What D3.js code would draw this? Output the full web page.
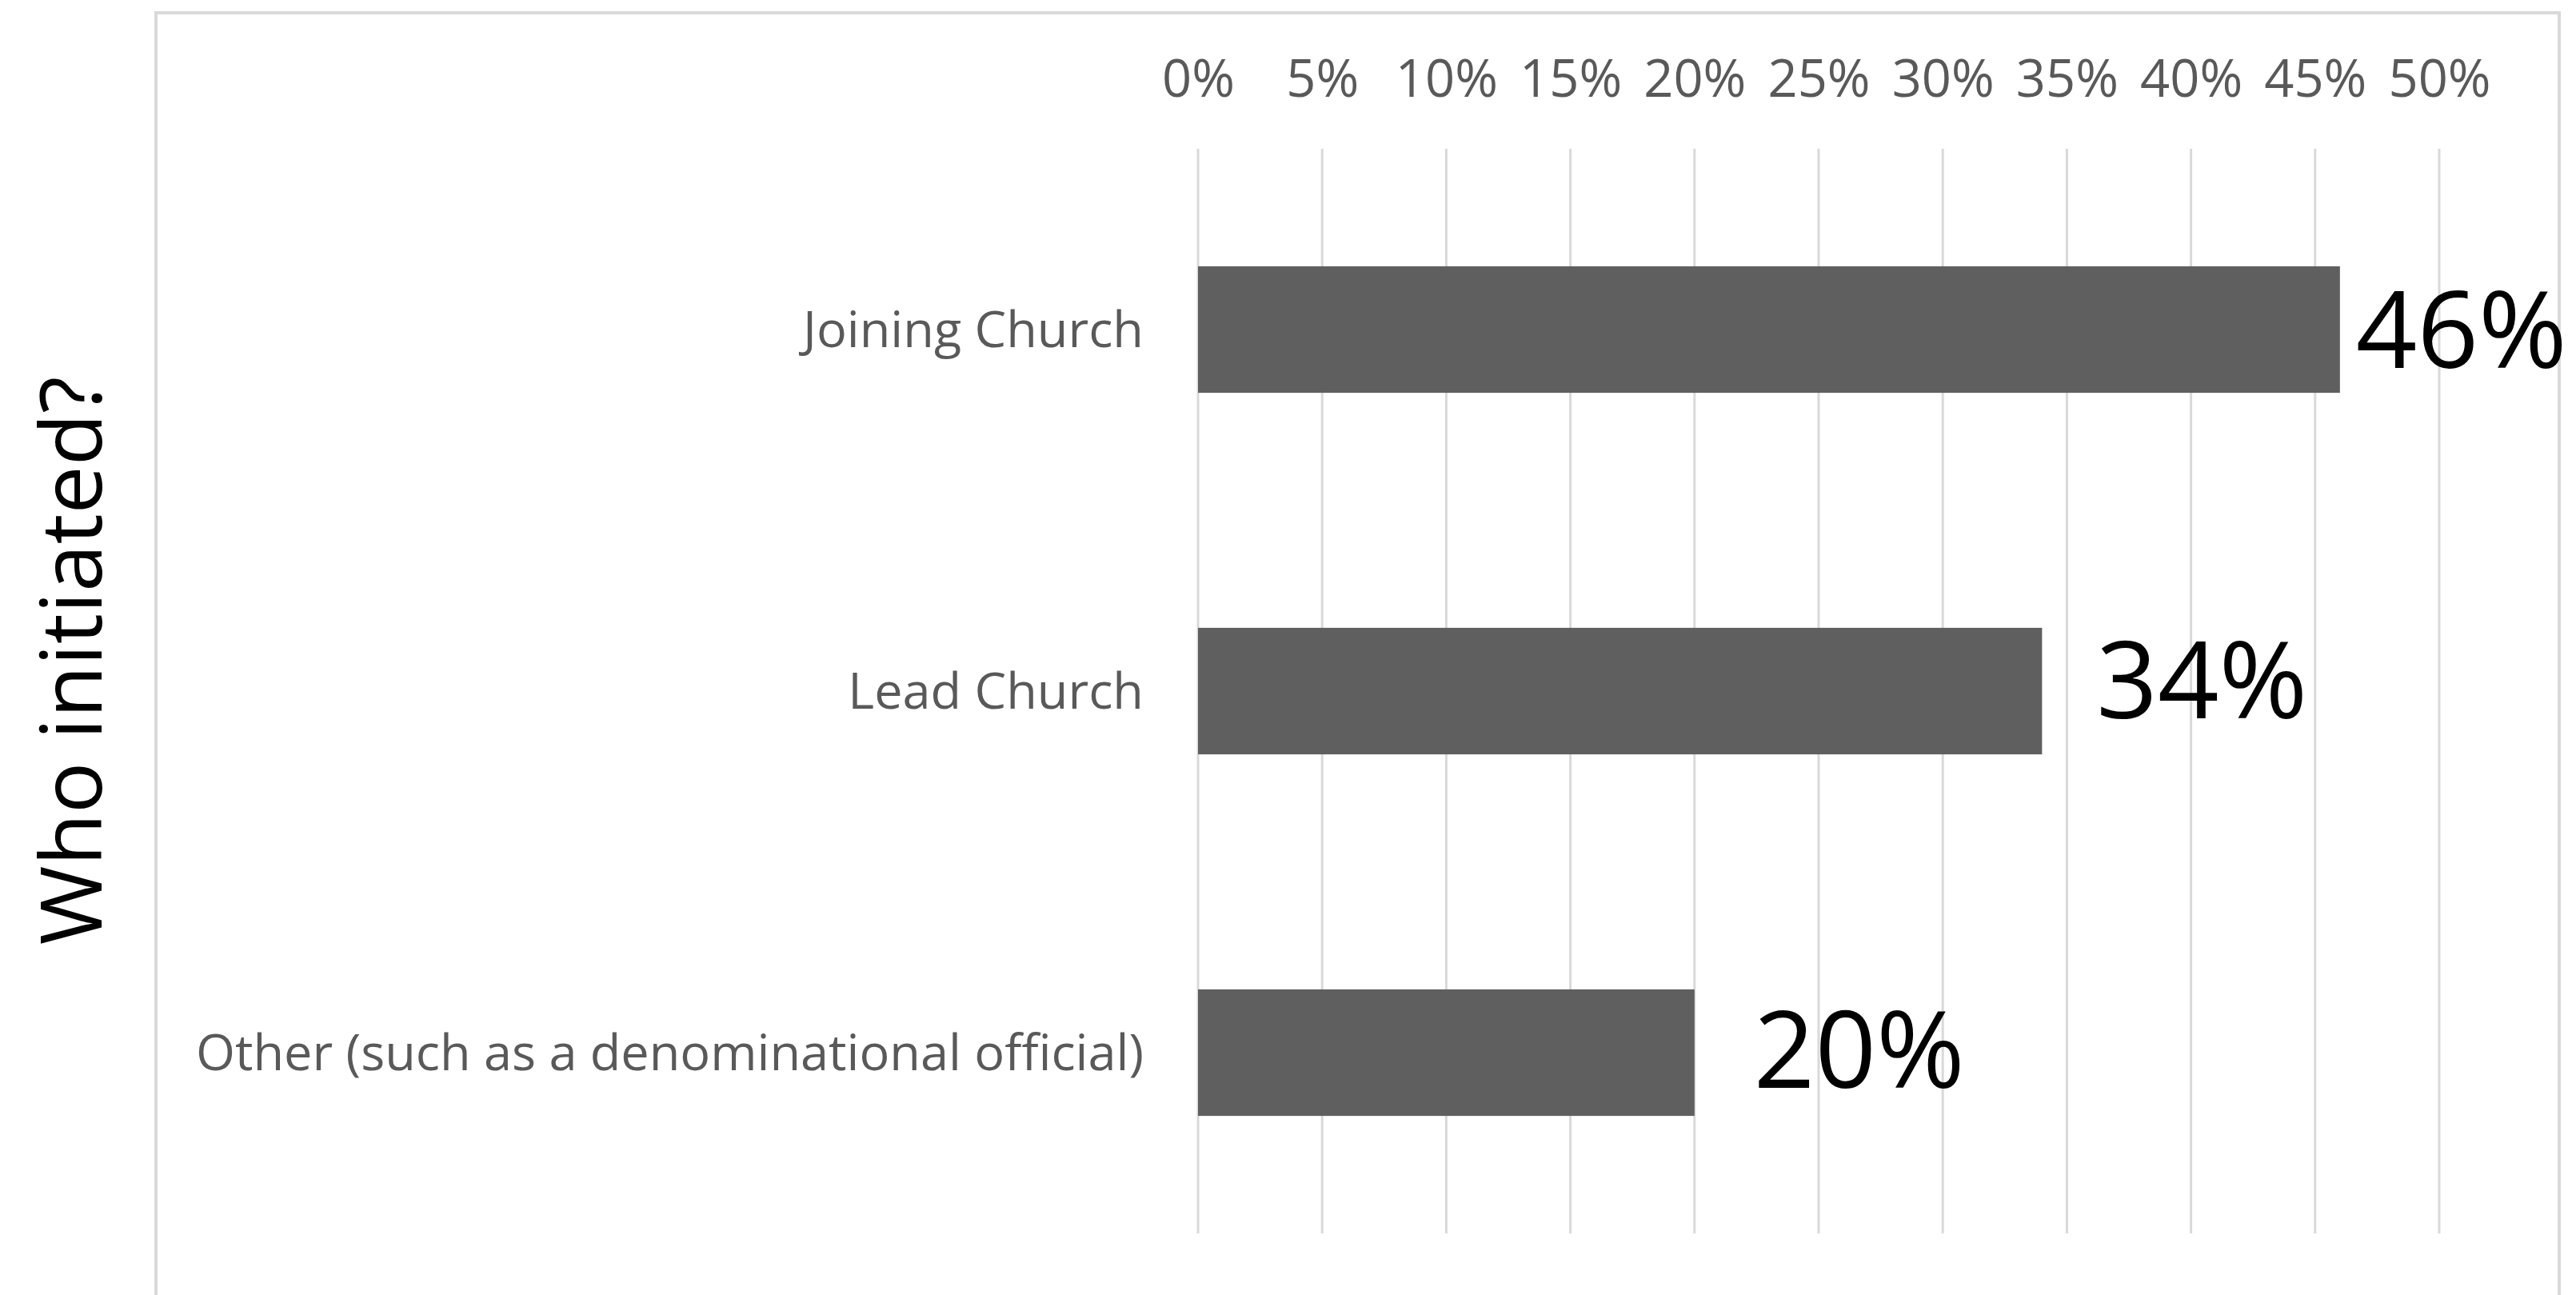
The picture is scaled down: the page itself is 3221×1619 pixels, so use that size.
<!DOCTYPE html>
<html>
<head>
<meta charset="utf-8">
<script src="https://cdn.jsdelivr.net/npm/d3@7"></script>
<style>
  html, body { margin: 0; padding: 0; background: #ffffff; }
  svg { display: block; }
</style>
</head>
<body>
<svg id="chart" width="3221" height="1619"></svg>
<script>
// ---- data ----
const categories = ["Joining Church", "Lead Church", "Other (such as a denominational official)"];
const values = [0.46, 0.34, 0.20];
const valueLabels = ["46%", "34%", "20%"];
const tickValues = [0, 0.05, 0.10, 0.15, 0.20, 0.25, 0.30, 0.35, 0.40, 0.45, 0.50];
const tickLabels = ["0%", "5%", "10%", "15%", "20%", "25%", "30%", "35%", "40%", "45%", "50%"];
const axisTitle = "Who initiated?";

// ---- layout ----
const plot = { left: 1498, right: 3050, top: 186, bottom: 1542 };
const labelGap = [20, 68, 74];
const labelShift = [0, -14, -4];

const svg = d3.select("#chart");

// outer chart-area border
svg.append("rect")
  .attr("x", 195).attr("y", 16)
  .attr("width", 3200 - 195).attr("height", 1700)
  .attr("fill", "none")
  .attr("stroke", "#d9d9d9")
  .attr("stroke-width", 4);

const x = d3.scaleLinear().domain([0, 0.5]).range([plot.left, plot.right]);
const y = d3.scaleBand().domain(categories).range([plot.top, plot.bottom])
  .paddingInner(0.65).paddingOuter(0.325);

// gridlines
svg.append("g").selectAll("line").data(tickValues).join("line")
  .attr("x1", d => x(d)).attr("x2", d => x(d))
  .attr("y1", plot.top).attr("y2", plot.bottom)
  .attr("stroke", "#d9d9d9").attr("stroke-width", 3);

// top axis tick labels
const xAxis = d3.axisTop(x).tickValues(tickValues)
  .tickFormat((d, i) => tickLabels[i]).tickSize(0).tickPadding(0);
const gx = svg.append("g").attr("transform", "translate(0,121)").call(xAxis);
gx.select(".domain").remove();
gx.selectAll("text")
  .attr("fill", "#595959")
  .attr("font-family", "'Open Sans', sans-serif")
  .attr("font-size", 65)
  .attr("dy", 0);

// category axis labels
const yAxis = d3.axisLeft(y).tickSize(0).tickPadding(0);
const gy = svg.append("g").attr("transform", "translate(1430,0)").call(yAxis);
gy.select(".domain").remove();
gy.selectAll("text")
  .attr("fill", "#595959")
  .attr("font-family", "'Open Sans', sans-serif")
  .attr("font-size", 63)
  .attr("dy", "0.35em");

// bars
svg.append("g").selectAll("rect").data(values).join("rect")
  .attr("x", x(0))
  .attr("y", (d, i) => y(categories[i]))
  .attr("width", d => x(d) - x(0))
  .attr("height", y.bandwidth())
  .attr("fill", "#5f5f5f");

// data labels
svg.append("g").selectAll("text").data(values).join("text")
  .attr("x", (d, i) => x(d) + labelGap[i])
  .attr("y", (d, i) => y(categories[i]) + y.bandwidth() / 2 + labelShift[i])
  .attr("dy", "0.36em")
  .attr("fill", "#000000")
  .attr("font-family", "'Open Sans', sans-serif")
  .attr("font-size", 134)
  .text((d, i) => valueLabels[i]);

// axis title
svg.append("text")
  .attr("transform", "translate(127,826) rotate(-90)")
  .attr("text-anchor", "middle")
  .attr("fill", "#000000")
  .attr("font-family", "'Open Sans', sans-serif")
  .attr("font-size", 107)
  .text(axisTitle);
</script>
</body>
</html>
